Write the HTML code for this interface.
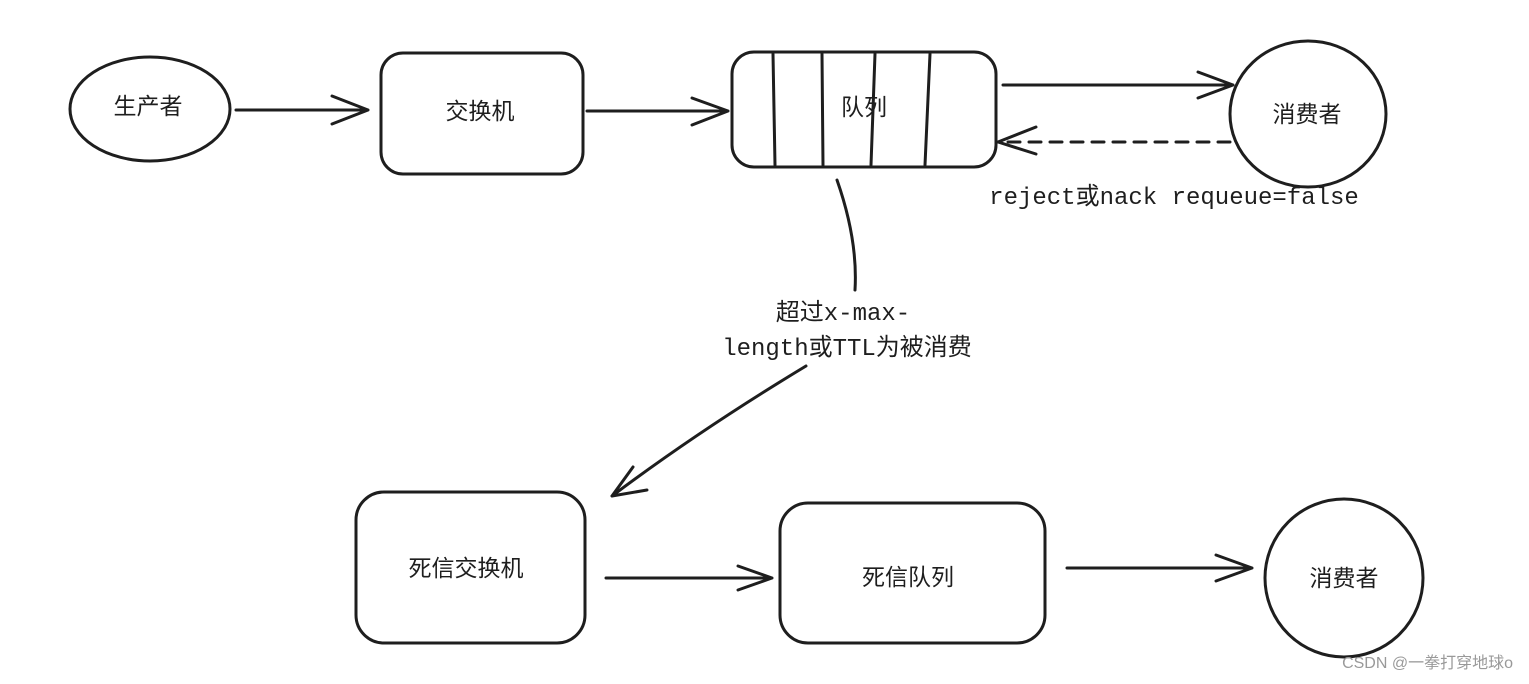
<!DOCTYPE html>
<html><head><meta charset="utf-8"><style>
html,body{margin:0;padding:0;background:#fff;}
svg text{font-family:"Liberation Sans","Noto Sans CJK SC",sans-serif;fill:#1e1e1e;}
.m{font-family:"Liberation Mono","Noto Sans CJK SC",monospace !important;}
</style></head><body>
<svg width="1529" height="679" viewBox="0 0 1529 679" xmlns="http://www.w3.org/2000/svg">
<g fill="none" stroke="#1e1e1e" stroke-width="3" stroke-linecap="round" stroke-linejoin="round">
<ellipse cx="150" cy="109" rx="80" ry="52"/>
<rect x="381" y="53" width="202" height="121" rx="22"/>
<rect x="732" y="52" width="264" height="115" rx="22"/>
<line x1="773" y1="54" x2="775" y2="165"/>
<line x1="822" y1="54" x2="823" y2="165"/>
<line x1="875" y1="54" x2="871" y2="165"/>
<line x1="930" y1="54" x2="925" y2="165"/>
<ellipse cx="1308" cy="114" rx="78" ry="73"/>
<rect x="356" y="492" width="229" height="151" rx="28"/>
<rect x="780" y="503" width="265" height="140" rx="28"/>
<circle cx="1344" cy="578" r="79"/>
<path d="M236 110 L368 110 M332 96 L368 110 L332 124"/>
<path d="M587 111 L728 111 M692 98 L728 111 L692 125"/>
<path d="M1003 85 L1233 85 M1198 72 L1233 85 L1198 98"/>
<path d="M1230 142 L998 142" stroke-dasharray="12 9"/>
<path d="M1036 127 L998 142 L1036 154"/>
<path d="M837 180 Q858 240 855 290"/>
<path d="M806 366 Q700 430 612 496 M633 467 L612 496 L647 490"/>
<path d="M606 578 L772 578 M738 566 L772 578 L738 590"/>
<path d="M1067 568 L1252 568 M1216 555 L1252 568 L1216 581"/>
</g>
<text x="148" y="114" font-size="23" text-anchor="middle">生产者</text>
<text x="480" y="119" font-size="23" text-anchor="middle">交换机</text>
<text x="864" y="115" font-size="23" text-anchor="middle">队列</text>
<text x="1307" y="122" font-size="23" text-anchor="middle">消费者</text>
<text x="1174" y="204" font-size="24" text-anchor="middle" class="m">reject或nack requeue=false</text>
<text x="843" y="320" font-size="24" text-anchor="middle" class="m">超过x-max-</text>
<text x="847" y="355" font-size="24" text-anchor="middle" class="m">length或TTL为被消费</text>
<text x="466" y="576" font-size="23" text-anchor="middle">死信交换机</text>
<text x="908" y="585" font-size="23" text-anchor="middle">死信队列</text>
<text x="1344" y="586" font-size="23" text-anchor="middle">消费者</text>
<text x="1513" y="668" font-size="16" text-anchor="end" style="fill:#999">CSDN @一拳打穿地球o</text>
</svg>
</body></html>
